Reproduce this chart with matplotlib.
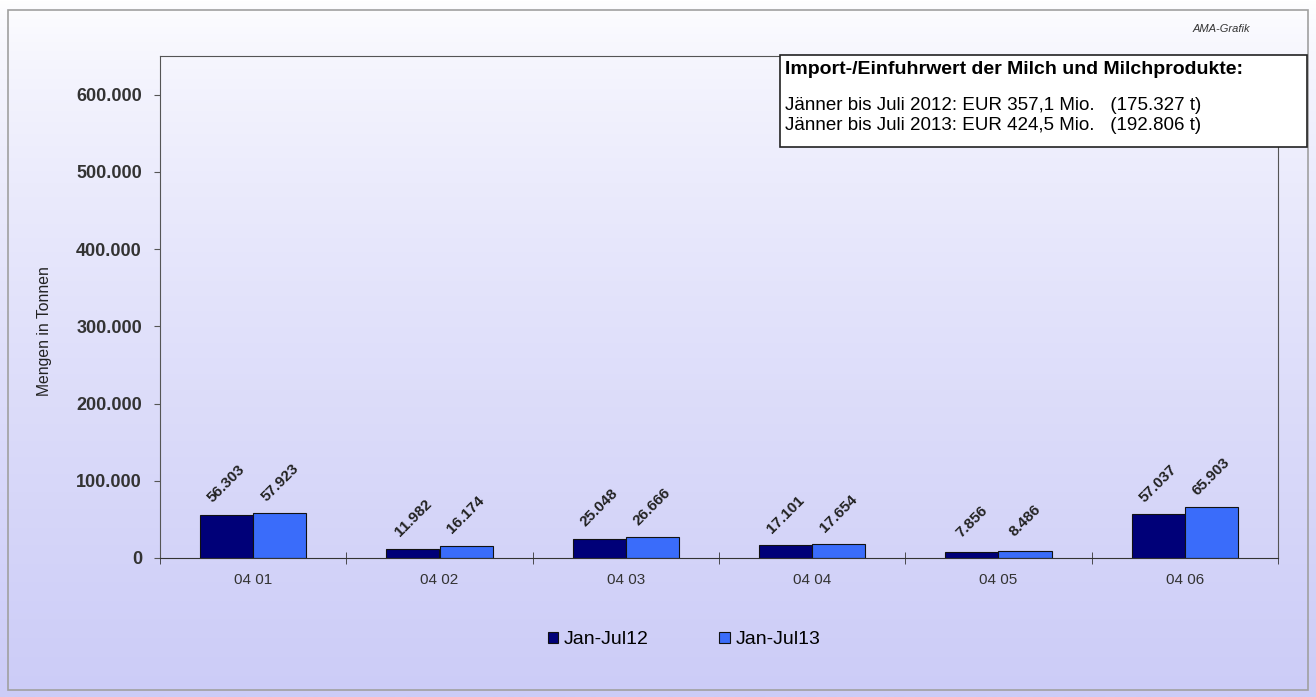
import matplotlib.pyplot as plt
import numpy as np
from matplotlib.patches import Rectangle

categories = ["04 01", "04 02", "04 03", "04 04", "04 05", "04 06"]
jan_jul12 = [56303, 11982, 25048, 17101, 7856, 57037]
jan_jul13 = [57923, 16174, 26666, 17654, 8486, 65903]
series_names = ["Jan-Jul12", "Jan-Jul13"]
yticks = [0, 100000, 200000, 300000, 400000, 500000, 600000]


def fmt(v):
    return f"{v:,}".replace(",", ".")


fig = plt.figure(figsize=(13.16, 6.97), dpi=100)

# background gradient over whole figure
bg = fig.add_axes([0, 0, 1, 1], zorder=-10)
grad = np.linspace(0, 1, 256).reshape(-1, 1)
top = np.array([1.0, 1.0, 1.0])
bot = np.array([0.80, 0.80, 0.97])
img = top + (bot - top) * grad[:, :, None] ** 0.7
bg.imshow(img, aspect="auto", extent=[0, 1, 0, 1], origin="upper")
bg.set_xlim(0, 1)
bg.set_ylim(0, 1)
bg.axis("off")
bg.add_patch(Rectangle((8 / 1316, 1 - 690 / 697), 1300 / 1316, 680 / 697,
                       fill=False, edgecolor="#a0a0a0", lw=1.2))

ax = fig.add_axes([160 / 1316, 1 - 558 / 697, 1118 / 1316, 502 / 697])
ax.patch.set_alpha(0)

x = np.arange(len(categories))
w = 0.285
b1 = ax.bar(x - w / 2, jan_jul12, w, color="#000078", edgecolor="#111111", lw=0.8,
            label=series_names[0])
b2 = ax.bar(x + w / 2, jan_jul13, w, color="#3a6cfa", edgecolor="#111111", lw=0.8,
            label=series_names[1])

for bars, vals in ((b1, jan_jul12), (b2, jan_jul13)):
    for r, v in zip(bars, vals):
        ax.annotate(fmt(v), (r.get_x() + r.get_width() / 2, r.get_height()),
                    xytext=(0, 22), textcoords="offset points", rotation=45,
                    ha="center", va="center", fontsize=11, fontweight="bold",
                    color="#222222", family="Liberation Sans",
                    rotation_mode="anchor")

ax.set_xlim(-0.5, len(categories) - 0.5)
ax.set_ylim(0, 650000)
ax.set_yticks(yticks)
ax.set_yticklabels([fmt(v) for v in yticks], fontsize=13, fontweight="bold",
                   color="#333333", family="Liberation Sans")
ax.set_xticks(x)
ax.set_xticklabels(categories, fontsize=11, color="#333333", family="Liberation Sans")
ax.tick_params(axis="x", length=0, pad=11)
ax.set_xticks(np.arange(len(categories) + 1) - 0.5, minor=True)
ax.tick_params(axis="x", which="minor", length=8, direction="inout", color="#333333")
ax.tick_params(axis="y", length=4, color="#555555", pad=9)
for s in ax.spines.values():
    s.set_color("#555555")
ax.spines["bottom"].set_color("#333333")
ax.set_ylabel("Mengen in Tonnen", fontsize=11.3, family="Liberation Sans",
              color="#222222")
ax.yaxis.set_label_coords(-0.097, 0.452)

leg = fig.legend(loc="center", bbox_to_anchor=(684 / 1316, 1 - 640 / 697), ncol=2,
                 frameon=False, handlelength=0.55, handleheight=0.55,
                 handletextpad=0.3, columnspacing=3.6,
                 prop={"family": "Liberation Sans", "size": 14})

fig.text(1250 / 1316, 1 - 29 / 697, "AMA-Grafik", ha="right", va="center",
         fontsize=8, style="italic", color="#333333", family="Liberation Sans")

box = Rectangle((780 / 1316, 1 - 147 / 697), 527 / 1316, 92 / 697,
                transform=fig.transFigure, facecolor="white", edgecolor="#222222", lw=1.2)
fig.patches.append(box)
fig.text(785 / 1316, 1 - 70 / 697, "Import-/Einfuhrwert der Milch und Milchprodukte:",
         fontsize=14, fontweight="bold", family="Liberation Sans", va="center")
fig.text(785 / 1316, 1 - 106 / 697, "Jänner bis Juli 2012: EUR 357,1 Mio.   (175.327 t)",
         fontsize=13.5, family="Liberation Sans", va="center")
fig.text(785 / 1316, 1 - 125 / 697, "Jänner bis Juli 2013: EUR 424,5 Mio.   (192.806 t)",
         fontsize=13.5, family="Liberation Sans", va="center")

fig.savefig("out.png", dpi=100)
